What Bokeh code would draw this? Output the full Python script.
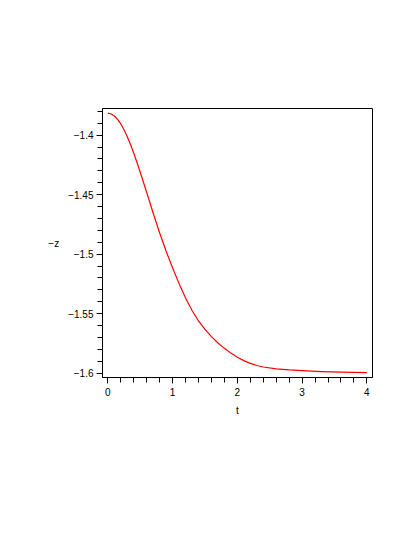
from bokeh.plotting import figure
from bokeh.models import FixedTicker, Range1d
from bokeh.embed import file_html
from bokeh.resources import INLINE

# data
t = [0.0, 0.05, 0.1, 0.15, 0.2, 0.25, 0.3, 0.35, 0.4, 0.45, 0.5, 0.6, 0.7, 0.8,
     0.9, 1.0, 1.1, 1.2, 1.3, 1.4, 1.5, 1.6, 1.7, 1.8, 1.9, 2.0, 2.1, 2.2, 2.3,
     2.4, 2.6, 2.8, 3.0, 3.3, 3.6, 4.0]
neg_z = [-1.3815, -1.3822, -1.3839, -1.3867, -1.3906, -1.3955, -1.4013, -1.4079,
         -1.4152, -1.4230, -1.4312, -1.4482, -1.4656, -1.4822, -1.4976, -1.5116,
         -1.5248, -1.5369, -1.5474, -1.5562, -1.5633, -1.5694, -1.5747, -1.5792,
         -1.5832, -1.5866, -1.5895, -1.5918, -1.5936, -1.5949, -1.5964, -1.5973,
         -1.5979, -1.5987, -1.5992, -1.5996]

x_ticks = [0, 1, 2, 3, 4]
x_minor = [0.2, 0.4, 0.6, 0.8, 1.2, 1.4, 1.6, 1.8, 2.2, 2.4, 2.6, 2.8,
           3.2, 3.4, 3.6, 3.8]
y_ticks = [-1.6, -1.55, -1.5, -1.45, -1.4]
y_labels = ["\u22121.6", "\u22121.55", "\u22121.5", "\u22121.45", "\u22121.4"]
y_minor = [-1.59, -1.58, -1.57, -1.56, -1.54, -1.53, -1.52, -1.51, -1.49, -1.48,
           -1.47, -1.46, -1.44, -1.43, -1.42, -1.41, -1.39, -1.38]

p = figure(width=407, height=529, output_backend="svg", toolbar_location=None,
           x_range=Range1d(-0.083, 4.087), y_range=Range1d(-1.6037, -1.3776),
           min_border_left=102, min_border_right=35, min_border_top=108,
           min_border_bottom=152)
p.line(t, neg_z, line_color="#ff0000", line_width=1.2, line_join="round")

p.grid.visible = False
p.outline_line_color = "black"
p.outline_line_width = 1
p.background_fill_color = "white"
p.border_fill_color = "white"

font = "Liberation Sans"
for ax in (p.xaxis[0], p.yaxis[0]):
    ax.axis_line_color = "black"
    ax.major_tick_in = 0
    ax.minor_tick_in = 0
    ax.major_tick_out = 6
    ax.minor_tick_out = 5
    ax.major_tick_line_color = "black"
    ax.minor_tick_line_color = "black"
    ax.major_label_text_font = font
    ax.major_label_text_font_size = "10px"
    ax.major_label_text_color = "black"
    ax.axis_label_text_font = font
    ax.axis_label_text_font_size = "10px"
    ax.axis_label_text_font_style = "normal"
    ax.axis_label_text_color = "black"

p.xaxis.ticker = FixedTicker(ticks=x_ticks, minor_ticks=x_minor)
p.yaxis.ticker = FixedTicker(ticks=y_ticks, minor_ticks=y_minor)
p.yaxis.major_label_overrides = {v: s for v, s in zip(y_ticks, y_labels)}
p.xaxis.axis_label = "t"
p.yaxis.axis_label = "\u2212z"
p.yaxis.axis_label_orientation = "horizontal"
p.xaxis.axis_label_standoff = 6
p.yaxis.axis_label_standoff = 6
p.xaxis.major_label_standoff = 4
p.yaxis.major_label_standoff = 3

open("out.html", "w").write(file_html(p, INLINE))
